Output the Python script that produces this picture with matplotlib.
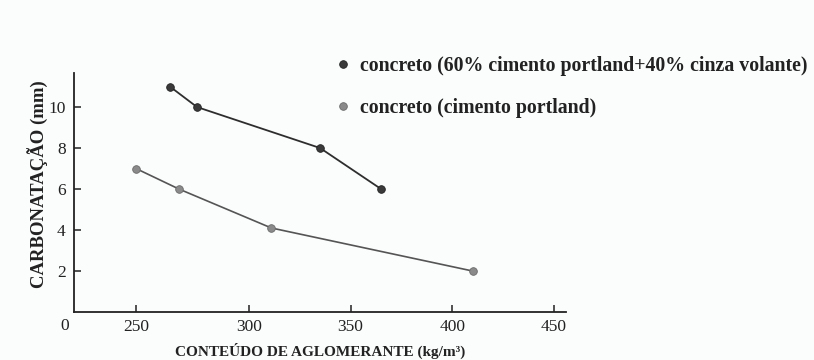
import numpy as np
import matplotlib
matplotlib.use("Agg")
import matplotlib.pyplot as plt
from matplotlib.lines import Line2D

# Binder content (kg/m3) and carbonation depth (mm)
fly_ash_binder = [265, 277, 335, 365]
fly_ash_carb = [11.0, 10.0, 8.0, 6.0]
portland_binder = [250, 269, 311, 410]
portland_carb = [7.0, 6.0, 4.1, 2.0]

x_ticks = [250, 300, 350, 400, 450]
y_ticks = [2, 4, 6, 8, 10]
labels = ["concreto (60% cimento portland+40% cinza volante)",
          "concreto (cimento portland)"]

# broken x axis: 0..250 squeezed, 300..450 linear
KNOT_VAL = [0, 250, 300, 450, 600]
KNOT_POS = [0, 62, 175, 480, 784]


def fwd(v):
    return np.interp(v, KNOT_VAL, KNOT_POS)


def inv(p):
    return np.interp(p, KNOT_POS, KNOT_VAL)


SERIF = ["Liberation Serif", "DejaVu Serif"]
BG = "#fbfcfc"
DARK = "#3a3a3a"
LIGHT = "#8a8a8a"

fig = plt.figure(figsize=(8.14, 3.6), dpi=100, facecolor=BG)
W, H = 814, 360
ax = fig.add_axes([74 / W, 48 / H, 492 / W, 239 / H], facecolor=BG)
ax.set_xscale("function", functions=(fwd, inv))

ax.plot(fly_ash_binder, fly_ash_carb, color="#2e2e2e", lw=1.3,
        marker="o", ms=5.5, mfc=DARK, mec="#222222", mew=0.6)
ax.plot(portland_binder, portland_carb, color="#555555", lw=1.2,
        marker="o", ms=5.5, mfc=LIGHT, mec="#6a6a6a", mew=0.6)

ax.set_xlim(0, 456)
ax.set_ylim(0, 11.66)
ax.set_xticks(x_ticks)
ax.set_yticks(y_ticks)
ax.xaxis.set_minor_locator(matplotlib.ticker.NullLocator())
for s in ("top", "right"):
    ax.spines[s].set_visible(False)
for s in ("left", "bottom"):
    ax.spines[s].set_linewidth(1.3)
    ax.spines[s].set_color("#222222")
ax.tick_params(direction="in", length=5, width=1.1, color="#222222",
               labelsize=12.5, labelcolor="#222222")
ax.tick_params(axis="x", pad=5)
ax.tick_params(axis="y", pad=6)
for t in ax.get_xticklabels() + ax.get_yticklabels():
    t.set_family(SERIF)

# origin label for the broken axis
ax.annotate("0", xy=(0, 0), xycoords="data", xytext=(-6.5, -4.5),
            textcoords="offset points", ha="center", va="top",
            fontsize=12.5, family=SERIF, color="#222222")

ax.set_xlabel("CONTEÚDO DE AGLOMERANTE (kg/m³)", family=SERIF,
              fontweight="bold", fontsize=11, color="#222222", va="center")
ax.xaxis.set_label_coords(0.5, -0.163)
ax.set_ylabel("CARBONATAÇÃO (mm)", family=SERIF, fontweight="bold",
              fontsize=13.5, color="#222222", va="center")
ax.yaxis.set_label_coords(-0.075, 0.536)

handles = [
    Line2D([], [], ls="none", marker="o", ms=5.5, mfc=DARK, mec="#222222", mew=0.6),
    Line2D([], [], ls="none", marker="o", ms=5.5, mfc=LIGHT, mec="#6a6a6a", mew=0.6),
]
fig.legend(handles, labels, loc="upper left",
           bbox_to_anchor=(333 / W, 1 - 56 / H), frameon=False,
           borderpad=0, borderaxespad=0, handlelength=1.0,
           handletextpad=0.35, labelspacing=1.1,
           prop={"family": SERIF, "weight": "bold", "size": 14.3},
           labelcolor="#222222")

fig.savefig("out.png", dpi=100, facecolor=BG)
